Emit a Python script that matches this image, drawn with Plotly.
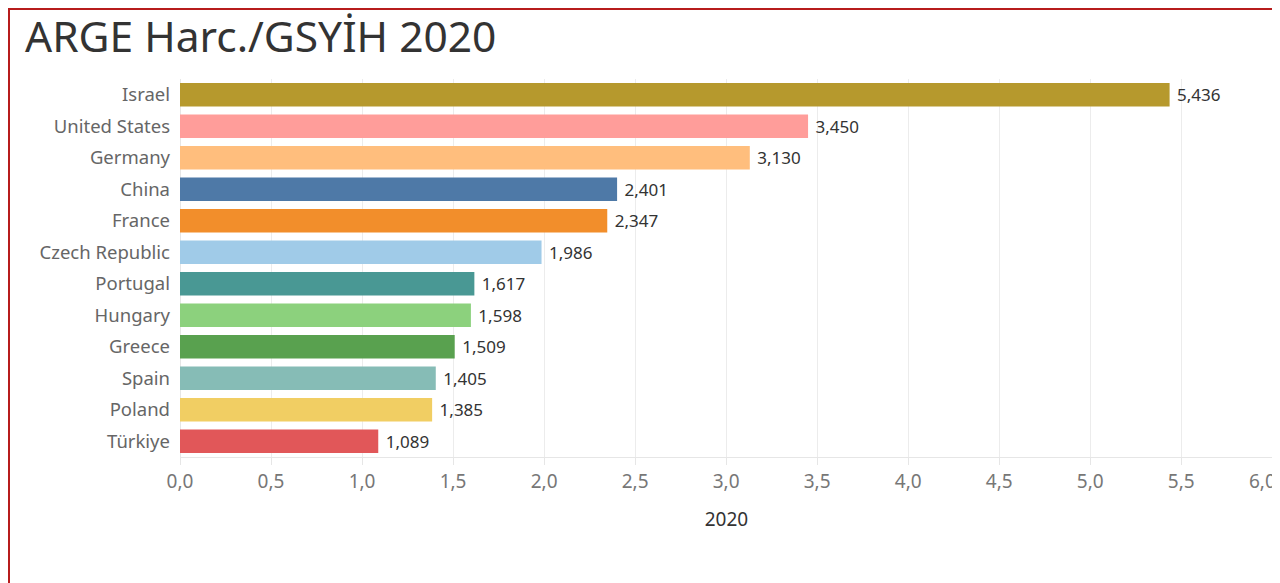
import plotly.graph_objects as go

countries = ["Israel", "United States", "Germany", "China", "France", "Czech Republic",
             "Portugal", "Hungary", "Greece", "Spain", "Poland", "Türkiye"]
values = [5.436, 3.450, 3.130, 2.401, 2.347, 1.986, 1.617, 1.598, 1.509, 1.405, 1.385, 1.089]
colors = ["#B6992D", "#FF9D9A", "#FFBE7D", "#4E79A7", "#F28E2B", "#A0CBE8",
          "#499894", "#8CD17D", "#59A14F", "#86BCB6", "#F1CE63", "#E15759"]
tick_vals = [0, 0.5, 1, 1.5, 2, 2.5, 3, 3.5, 4, 4.5, 5, 5.5, 6]
tick_text = ["0,0", "0,5", "1,0", "1,5", "2,0", "2,5", "3,0", "3,5", "4,0", "4,5", "5,0", "5,5", "6,0"]

# page body has an 8px margin, so the figure is placed at (8, 8)
W, H = 1280, 575
L, R, T, B = 172, 15, 71, 126
pw, ph = W - L - R, H - T - B

FONT = "Noto Sans, Open Sans, sans-serif"

fig = go.Figure(go.Bar(
    x=values, y=countries, orientation="h",
    marker=dict(color=colors, line=dict(width=0)),
    width=0.74,
    text=values, texttemplate="\u00a0%{x:.3f}", textposition="outside",
    textfont=dict(size=19, color="#333333", family=FONT),
    cliponaxis=False, hoverinfo="skip",
))


def px2paper_x(px):
    return (px - L) / pw


def px2paper_y(py):
    return (H - B - py) / ph


# last tick label is nudged left so it stays inside the page (as in the reference)
shown_text = tick_text[:-1] + [""]

fig.update_layout(
    width=W, height=H,
    margin=dict(l=L, r=R, t=T, b=B, autoexpand=False),
    paper_bgcolor="white", plot_bgcolor="white",
    separators=",.",
    font=dict(family=FONT, color="#666666"),
    title=dict(text="ARGE Harc./GSYİH 2020", x=17 / W, xanchor="left", xref="container",
               y=1 - 29.5 / H, yanchor="middle", yref="container",
               font=dict(size=42.5, color="#333333", family=FONT)),
    showlegend=False,
    xaxis=dict(range=[0, 6.004], tickvals=tick_vals, ticktext=shown_text,
               automargin=False,
               showgrid=True, gridcolor="#ececec", gridwidth=1,
               zeroline=True, zerolinecolor="#e6e6e6", zerolinewidth=1,
               showline=True, linecolor="#e6e6e6", linewidth=1,
               ticks="outside", ticklen=7, tickcolor="#e6e6e6",
               tickfont=dict(size=19, color="#777777"),
               title=dict(text="2020", font=dict(size=19, color="#333333"), standoff=19)),
    yaxis=dict(categoryorder="array", categoryarray=countries[::-1],
               range=[-0.5, len(countries) - 0.5],
               automargin=False,
               showgrid=False, showline=False, zeroline=False,
               ticks="", ticklabelstandoff=9,
               tickfont=dict(size=18.5, color="#666666")),
    annotations=[dict(text=tick_text[-1], x=tick_vals[-1], xref="x", y=0, yref="paper",
                      xanchor="right", yanchor="middle", xshift=6, yshift=-24,
                      showarrow=False, font=dict(size=19, color="#777777", family=FONT))],
    shapes=[dict(type="rect", xref="paper", yref="paper",
                 x0=px2paper_x(1), x1=px2paper_x(W + 50),
                 y0=px2paper_y(H + 50), y1=px2paper_y(1),
                 line=dict(color="#B71C1C", width=2), fillcolor="rgba(0,0,0,0)", layer="below")],
)

fig.write_html("out.html")
